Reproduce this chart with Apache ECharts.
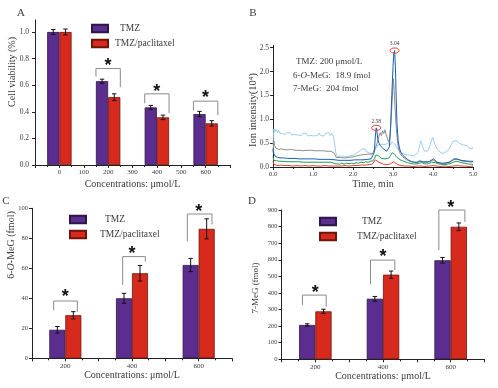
<!DOCTYPE html>
<html>
<head>
<meta charset="utf-8">
<script src="https://cdn.jsdelivr.net/npm/echarts@6/dist/echarts.min.js"></script>
<style>
  html, body { margin: 0; padding: 0; background: #fff; }
  #chart { width: 498px; height: 388px; }
</style>
</head>
<body>
<div id="chart"></div>
<script>
const FONT = '"Liberation Serif", "Times New Roman", serif';
const TXT = '#3a3a3a';
const PURPLE = '#5b2d8e';
const RED = '#d8291d';

// ---- panel A: cell viability ----
const concA = ['0', '200', '400', '600'];
const tmzA = [1.0, 0.63, 0.433, 0.383];
const tmzErrA = [0.018, 0.015, 0.015, 0.02];
const paclA = [1.0, 0.51, 0.358, 0.313];
const paclErrA = [0.022, 0.025, 0.017, 0.02];
// [left x, left leg end, right x, right leg end, top]
const bracketsA = [[150, 0.665, 250, 0.585, 0.725], [350, 0.465, 450, 0.39, 0.535], [550, 0.41, 650, 0.375, 0.48]];
const starsA = [[200, 0.775], [400, 0.58], [600, 0.53]];

// ---- panel B: ion chromatogram (time min, intensity 10^4) ----
const lightBlue = [[0.00,0.45],[0.02,0.80],[0.05,0.74],[0.08,0.79],[0.11,0.72],[0.14,0.77],[0.17,0.71],[0.20,0.75],[0.24,0.70],[0.27,0.74],[0.31,0.68],[0.35,0.73],[0.39,0.69],[0.43,0.72],[0.47,0.67],[0.51,0.71],[0.55,0.68],[0.59,0.72],[0.63,0.67],[0.67,0.70],[0.71,0.66],[0.75,0.71],[0.79,0.67],[0.83,0.70],[0.87,0.65],[0.91,0.69],[0.95,0.66],[0.99,0.70],[1.03,0.65],[1.07,0.69],[1.11,0.66],[1.15,0.71],[1.19,0.66],[1.23,0.70],[1.27,0.65],[1.31,0.70],[1.35,0.67],[1.39,0.72],[1.43,0.66],[1.47,0.71],[1.51,0.64],[1.54,0.50],[1.57,0.30],[1.61,0.22],[1.66,0.20],[1.71,0.23],[1.76,0.19],[1.81,0.22],[1.86,0.20],[1.91,0.23],[1.96,0.21],[2.01,0.25],[2.06,0.24],[2.11,0.30],[2.16,0.33],[2.21,0.37],[2.26,0.34],[2.30,0.38],[2.34,0.32],[2.38,0.35],[2.42,0.29],[2.46,0.31],[2.50,0.28],[2.54,0.33],[2.58,0.40],[2.62,0.46],[2.66,0.42],[2.70,0.48],[2.74,0.44],[2.78,0.47],[2.82,0.43],[2.86,0.49],[2.90,0.52],[2.94,0.47],[2.98,0.53],[3.02,0.50],[3.06,0.46],[3.10,0.40],[3.14,0.35],[3.18,0.31],[3.22,0.29],[3.27,0.27],[3.32,0.26],[3.37,0.24],[3.42,0.25],[3.47,0.22],[3.52,0.23],[3.57,0.26],[3.62,0.30],[3.66,0.42],[3.69,0.55],[3.72,0.50],[3.75,0.40],[3.79,0.33],[3.83,0.30],[3.87,0.34],[3.91,0.42],[3.95,0.52],[3.99,0.62],[4.02,0.55],[4.06,0.45],[4.10,0.38],[4.15,0.33],[4.20,0.30],[4.25,0.28],[4.30,0.30],[4.35,0.33],[4.40,0.38],[4.45,0.46],[4.50,0.54],[4.55,0.58],[4.60,0.55],[4.65,0.50],[4.70,0.48],[4.75,0.46],[4.80,0.43],[4.85,0.45],[4.90,0.40],[4.94,0.43],[4.98,0.38],[5.00,0.41]];
const grayTrace = [[0.00,0.30],[0.02,0.55],[0.04,0.45],[0.07,0.40],[0.10,0.42],[0.14,0.37],[0.18,0.41],[0.22,0.38],[0.26,0.40],[0.30,0.36],[0.34,0.39],[0.38,0.36],[0.42,0.40],[0.46,0.37],[0.50,0.39],[0.55,0.35],[0.60,0.38],[0.65,0.35],[0.70,0.37],[0.75,0.34],[0.80,0.37],[0.85,0.35],[0.90,0.38],[0.95,0.35],[1.00,0.37],[1.05,0.34],[1.10,0.36],[1.15,0.34],[1.20,0.37],[1.25,0.34],[1.30,0.36],[1.35,0.33],[1.40,0.36],[1.45,0.33],[1.50,0.35],[1.54,0.28],[1.58,0.20],[1.63,0.18],[1.68,0.20],[1.73,0.17],[1.78,0.19],[1.83,0.18],[1.88,0.20],[1.93,0.18],[1.98,0.21],[2.03,0.20],[2.08,0.23],[2.13,0.22],[2.18,0.25],[2.23,0.23],[2.28,0.26],[2.33,0.24],[2.38,0.27],[2.43,0.25],[2.48,0.27],[2.52,0.30],[2.56,0.40],[2.60,0.50],[2.64,0.62],[2.68,0.72],[2.71,0.66],[2.74,0.76],[2.77,0.70],[2.80,0.78],[2.83,0.68],[2.86,0.60],[2.89,0.52],[2.92,0.60],[2.95,0.95],[2.98,1.40],[3.01,1.85],[3.03,1.60],[3.05,1.25],[3.08,0.85],[3.11,0.55],[3.14,0.38],[3.18,0.28],[3.23,0.22],[3.28,0.18],[3.34,0.15],[3.40,0.13],[3.46,0.11],[3.52,0.10],[3.58,0.09],[3.64,0.10],[3.70,0.12],[3.76,0.10],[3.82,0.09],[3.88,0.10],[3.94,0.12],[4.00,0.15],[4.04,0.12],[4.10,0.09],[4.16,0.08],[4.22,0.07],[4.28,0.07],[4.34,0.08],[4.40,0.09],[4.46,0.12],[4.52,0.15],[4.58,0.16],[4.64,0.15],[4.70,0.13],[4.76,0.12],[4.82,0.11],[4.88,0.12],[4.94,0.10],[5.00,0.11]];
const blueTrace = [[0.00,0.38],[0.02,0.28],[0.05,0.23],[0.08,0.25],[0.12,0.20],[0.16,0.23],[0.20,0.19],[0.24,0.22],[0.28,0.19],[0.32,0.22],[0.36,0.18],[0.40,0.21],[0.45,0.18],[0.50,0.21],[0.55,0.18],[0.60,0.20],[0.65,0.17],[0.70,0.20],[0.75,0.17],[0.80,0.20],[0.85,0.17],[0.90,0.19],[0.95,0.17],[1.00,0.20],[1.05,0.17],[1.10,0.19],[1.15,0.16],[1.20,0.19],[1.25,0.16],[1.30,0.19],[1.35,0.16],[1.40,0.18],[1.45,0.16],[1.50,0.18],[1.55,0.15],[1.60,0.17],[1.65,0.14],[1.70,0.16],[1.75,0.14],[1.80,0.16],[1.85,0.14],[1.90,0.16],[1.95,0.14],[2.00,0.16],[2.05,0.15],[2.10,0.17],[2.15,0.15],[2.20,0.17],[2.25,0.15],[2.30,0.17],[2.35,0.16],[2.40,0.18],[2.45,0.17],[2.50,0.19],[2.53,0.30],[2.56,0.65],[2.58,0.82],[2.60,0.74],[2.62,0.58],[2.65,0.50],[2.68,0.45],[2.72,0.42],[2.76,0.38],[2.80,0.40],[2.84,0.33],[2.88,0.30],[2.91,0.42],[2.94,0.85],[2.97,1.50],[3.00,2.10],[3.02,2.38],[3.04,2.44],[3.06,2.10],[3.08,1.45],[3.10,0.90],[3.13,0.55],[3.16,0.40],[3.20,0.30],[3.25,0.24],[3.30,0.20],[3.36,0.16],[3.42,0.13],[3.48,0.11],[3.54,0.10],[3.60,0.10],[3.66,0.13],[3.70,0.15],[3.75,0.11],[3.80,0.10],[3.86,0.11],[3.92,0.12],[3.97,0.15],[4.01,0.17],[4.05,0.13],[4.10,0.10],[4.16,0.09],[4.22,0.08],[4.28,0.08],[4.34,0.09],[4.40,0.10],[4.46,0.13],[4.52,0.17],[4.56,0.19],[4.60,0.17],[4.65,0.16],[4.70,0.14],[4.75,0.15],[4.80,0.13],[4.85,0.14],[4.90,0.12],[4.95,0.13],[5.00,0.12]];
const greenTrace = [[0.00,0.22],[0.02,0.14],[0.05,0.11],[0.09,0.13],[0.13,0.10],[0.17,0.12],[0.21,0.10],[0.25,0.12],[0.30,0.09],[0.35,0.11],[0.40,0.09],[0.45,0.11],[0.50,0.09],[0.55,0.11],[0.60,0.09],[0.65,0.11],[0.70,0.09],[0.75,0.10],[0.80,0.08],[0.85,0.10],[0.90,0.08],[0.95,0.10],[1.00,0.08],[1.05,0.10],[1.10,0.08],[1.15,0.10],[1.20,0.08],[1.25,0.10],[1.30,0.08],[1.35,0.10],[1.40,0.08],[1.45,0.10],[1.50,0.08],[1.55,0.07],[1.60,0.08],[1.66,0.06],[1.72,0.08],[1.78,0.06],[1.84,0.08],[1.90,0.07],[1.96,0.08],[2.02,0.07],[2.08,0.09],[2.14,0.08],[2.20,0.10],[2.26,0.09],[2.32,0.11],[2.38,0.10],[2.44,0.12],[2.50,0.13],[2.54,0.18],[2.57,0.25],[2.60,0.28],[2.63,0.24],[2.67,0.20],[2.71,0.18],[2.75,0.19],[2.80,0.17],[2.85,0.20],[2.90,0.19],[2.94,0.24],[2.98,0.30],[3.01,0.32],[3.04,0.27],[3.08,0.22],[3.13,0.18],[3.18,0.15],[3.24,0.13],[3.30,0.11],[3.36,0.09],[3.42,0.08],[3.48,0.07],[3.54,0.06],[3.60,0.07],[3.66,0.08],[3.72,0.09],[3.78,0.07],[3.84,0.06],[3.90,0.07],[3.96,0.10],[4.01,0.13],[4.06,0.09],[4.12,0.07],[4.18,0.06],[4.24,0.05],[4.30,0.05],[4.36,0.06],[4.42,0.07],[4.48,0.09],[4.54,0.11],[4.60,0.12],[4.66,0.10],[4.72,0.09],[4.78,0.08],[4.84,0.07],[4.90,0.06],[4.96,0.06],[5.00,0.05]];
const redTrace = [[0.00,0.12],[0.02,0.06],[0.05,0.04],[0.10,0.03],[0.20,0.04],[0.30,0.03],[0.40,0.03],[0.50,0.02],[0.60,0.03],[0.70,0.02],[0.80,0.03],[0.90,0.02],[1.00,0.03],[1.10,0.02],[1.20,0.02],[1.30,0.03],[1.40,0.02],[1.50,0.02],[1.60,0.02],[1.70,0.02],[1.80,0.03],[1.90,0.02],[2.00,0.03],[2.10,0.03],[2.20,0.04],[2.30,0.04],[2.40,0.05],[2.48,0.06],[2.53,0.10],[2.56,0.15],[2.58,0.19],[2.61,0.15],[2.65,0.10],[2.70,0.07],[2.76,0.06],[2.82,0.05],[2.88,0.05],[2.94,0.07],[2.98,0.09],[3.02,0.11],[3.06,0.08],[3.12,0.05],[3.20,0.03],[3.30,0.02],[3.40,0.02],[3.50,0.01],[3.60,0.02],[3.70,0.02],[3.80,0.01],[3.90,0.02],[4.00,0.03],[4.10,0.02],[4.20,0.01],[4.30,0.02],[4.40,0.01],[4.50,0.02],[4.60,0.03],[4.70,0.02],[4.80,0.02],[4.90,0.01],[5.00,0.02]];
const peakTimes = [2.58, 3.04];
const peakValues = [0.82, 2.44];

// ---- panel C: 6-O-MeG ----
const concC = ['200', '400', '600'];
const tmzC = [19, 40, 62.2];
const tmzErrC = [2.2, 3.3, 4.4];
const paclC = [28.7, 56.7, 86.3];
const paclErrC = [2.4, 5.2, 6.7];
const bracketsC = [[165, 32, 236, 31, 38.2], [372, 49, 440, 64.4, 67.8], [566, 78, 640, 89.3, 96.2]];
const starsC = [[200, 43.5], [400, 72.5], [600, 100]];

// ---- panel D: 7-MeG ----
const concD = ['200', '400', '600'];
const tmzD = [207, 365, 597];
const tmzErrD = [7, 14, 17];
const paclD = [289, 510, 799];
const paclErrD = [13, 22, 23];
const bracketsD = [[162, 327, 232, 317, 387], [363, 452, 435, 538, 598], [565, 658, 642, 829, 900]];
const starsD = [[200, 422], [400, 638], [600, 935]];

const myChart = echarts.init(document.getElementById('chart'), null, { renderer: 'canvas' });

const axisLine = { show: true, onZero: false, lineStyle: { color: '#222', width: 1 } };
const axisTick = { show: true, inside: false, length: 3, lineStyle: { color: '#222' } };
const lbl = (size) => ({ fontFamily: FONT, fontSize: size, color: TXT });

function valueX(grid, min, max, interval, fmt, name, gap) {
  return {
    gridIndex: grid, type: 'value', min: min, max: max, interval: interval,
    axisLine: axisLine, axisTick: axisTick,
    minorTick: { show: true, splitNumber: 2, length: 2, lineStyle: { color: '#222' } },
    splitLine: { show: false },
    axisLabel: Object.assign(lbl(7), { margin: 4, formatter: fmt }),
    name: name, nameLocation: 'middle', nameGap: gap,
    nameTextStyle: lbl(10)
  };
}
function hiddenCat(grid, cats) {
  return { gridIndex: grid, type: 'category', data: cats, show: false, boundaryGap: true,
    axisLine: { show: false, onZero: false } };
}
function valueY(grid, min, max, interval, fmt, ticks, size, margin) {
  return {
    gridIndex: grid, type: 'value', min: min, max: max, interval: interval,
    axisLine: axisLine,
    axisTick: Object.assign({}, axisTick, { customValues: ticks }),
    splitLine: { show: false },
    axisLabel: Object.assign(lbl(size), { margin: margin, formatter: fmt, customValues: ticks })
  };
}

function bars(xi, yi, tmz, pacl, width) {
  const common = { type: 'bar', xAxisIndex: xi, yAxisIndex: yi, barWidth: width, barGap: '0%', silent: true };
  return [
    Object.assign({}, common, { name: 'TMZ', data: tmz,
      itemStyle: { color: PURPLE, borderColor: '#2e1748', borderWidth: 0.8 } }),
    Object.assign({}, common, { name: 'TMZ/paclitaxel', data: pacl,
      itemStyle: { color: RED, borderColor: '#6d140c', borderWidth: 0.8 } })
  ];
}

function errors(xi, yi, vals, errs, side, frac) {
  return {
    type: 'custom', xAxisIndex: xi, yAxisIndex: yi, silent: true, z: 5,
    data: vals.map((v, i) => [i, v, errs[i]]),
    renderItem: function (params, api) {
      const band = api.size([1, 0])[0];
      const top = api.coord([api.value(0), api.value(1) + api.value(2)]);
      const bot = api.coord([api.value(0), api.value(1) - api.value(2)]);
      const x = top[0] + side * band * frac / 2;
      const cap = 2.2;
      const st = { stroke: '#111', lineWidth: 1 };
      return { type: 'group', children: [
        { type: 'line', shape: { x1: x, y1: top[1], x2: x, y2: bot[1] }, style: st },
        { type: 'line', shape: { x1: x - cap, y1: top[1], x2: x + cap, y2: top[1] }, style: st },
        { type: 'line', shape: { x1: x - cap, y1: bot[1], x2: x + cap, y2: bot[1] }, style: st }
      ] };
    }
  };
}

function brackets(xi, yi, list) {
  return {
    type: 'custom', xAxisIndex: xi, yAxisIndex: yi, silent: true, z: 6,
    data: list,
    renderItem: function (params, api) {
      const pts = [
        api.coord([api.value(0), api.value(1)]),
        api.coord([api.value(0), api.value(4)]),
        api.coord([api.value(2), api.value(4)]),
        api.coord([api.value(2), api.value(3)])
      ];
      return { type: 'polyline', shape: { points: pts }, style: { stroke: '#8a8a8a', fill: null, lineWidth: 1 } };
    }
  };
}

function stars(xi, yi, list) {
  return {
    type: 'custom', xAxisIndex: xi, yAxisIndex: yi, silent: true, z: 7,
    data: list,
    renderItem: function (params, api) {
      const p = api.coord([api.value(0), api.value(1)]);
      return { type: 'text', x: p[0], y: p[1] + 4,
        style: { text: '*', fill: '#111', fontFamily: '"Liberation Sans", Arial, sans-serif', fontSize: 18, fontWeight: 'bold',
          align: 'center', verticalAlign: 'middle', textAlign: 'center', textVerticalAlign: 'middle' } };
    }
  };
}

function legend(left, top, pad) {
  return {
    orient: 'vertical', left: left, top: top, icon: 'rect', padding: 0,
    itemWidth: 16, itemHeight: 7.5, itemGap: 4,
    data: ['TMZ', 'TMZ/paclitaxel'], selectedMode: false,
    textStyle: { fontFamily: FONT, fontSize: 9.5, color: TXT, lineHeight: 11,
      rich: {
        t: { fontFamily: FONT, fontSize: 9.5, color: TXT, padding: [0, 0, 0, pad + 5] },
        p: { fontFamily: FONT, fontSize: 9.5, color: TXT, padding: [0, 0, 0, pad] }
      } },
    formatter: (name) => name === 'TMZ' ? '{t|' + name + '}' : '{p|' + name + '}'
  };
}

function traceLine(data, color, opacity) {
  return {
    type: 'line', xAxisIndex: 2, yAxisIndex: 1, data: data, showSymbol: false, silent: true,
    lineStyle: { color: color, width: 1, opacity: opacity }
  };
}

function gtext(x, y, text, size, rot) {
  const style = { text: text, fontFamily: FONT, fontSize: size, fill: TXT,
    align: 'center', verticalAlign: 'middle', textAlign: 'center', textVerticalAlign: 'middle' };
  if (text.indexOf('{i|') >= 0) {
    style.rich = { i: { fontFamily: FONT, fontStyle: 'italic', fontSize: size, fill: TXT } };
  }
  return { type: 'text', x: x, y: y, rotation: rot || 0, style: style };
}

function note(x, y, text) {
  return { type: 'text', x: x, y: y, style: { text: text, fontFamily: FONT, fontSize: 9, fill: TXT,
    verticalAlign: 'middle', textVerticalAlign: 'middle',
    rich: { i: { fontFamily: FONT, fontStyle: 'italic', fontSize: 9, fill: TXT } } } };
}

myChart.setOption({
  animation: false,
  backgroundColor: '#fff',
  grid: [
    { left: 35, top: 20, width: 195, height: 145 },
    { left: 273, top: 45.3, width: 200, height: 121.7 },
    { left: 32, top: 208.3, width: 200, height: 150 },
    { left: 281.5, top: 210, width: 203, height: 149.3 }
  ],
  xAxis: [
    valueX(0, -100, 700, 100, (v) => (v >= 0 && v <= 600) ? String(v) : '', 'Concentrations: μmol/L', 14),
    hiddenCat(0, concA),
    valueX(1, 0, 5, 1, (v) => v.toFixed(1), 'Time, min', 12),
    valueX(2, 100, 700, 100, (v) => v % 200 === 0 ? String(v) : '', 'Concentrations: μmol/L', 12),
    hiddenCat(2, concC),
    valueX(3, 100, 700, 100, (v) => v % 200 === 0 ? String(v) : '', 'Concentrations: μmol/L', 12),
    hiddenCat(3, concD)
  ],
  yAxis: [
    valueY(0, 0, 1.09, 0.2, (v) => v.toFixed(1), [0, 0.2, 0.4, 0.6, 0.8, 1.0], 7.5, 6),
    valueY(1, 0, 2.55, 0.5, (v) => v.toFixed(1), [0, 0.5, 1.0, 1.5, 2.0, 2.5], 7.5, 4),
    valueY(2, 0, 100, 20, (v) => String(v), [0, 20, 40, 60, 80, 100], 6.5, 4),
    valueY(3, 0, 900, 100, (v) => String(v), [0, 100, 200, 300, 400, 500, 600, 700, 800, 900], 6.5, 4)
  ],
  legend: [legend(91, 23, 2), legend(69, 214, 9), legend(319, 216, 16)],
  graphic: [
    gtext(21, 13, 'A', 11),
    gtext(253, 13, 'B', 11),
    gtext(6, 201, 'C', 11),
    gtext(252, 201, 'D', 11),
    gtext(12, 72, 'Cell viability (%)', 10, Math.PI / 2),
    gtext(253, 110, 'Ion intensity(10⁴)', 10.5, Math.PI / 2),
    gtext(11, 245, '6-{i|O}-MeG (fmol)', 10, Math.PI / 2),
    gtext(256, 288, '7-MeG (fmol)', 9, Math.PI / 2),
    note(296, 62, 'TMZ: 200 μmol/L'),
    note(293, 75.5, '6-{i|O}-MeG:  18.9 fmol'),
    note(293, 88.5, '7-MeG:  204 fmol')
  ],
  series: [
    ...bars(1, 0, tmzA, paclA, '25%'),
    errors(1, 0, tmzA, tmzErrA, -1, 0.25),
    errors(1, 0, paclA, paclErrA, 1, 0.25),
    brackets(0, 0, bracketsA),
    stars(0, 0, starsA),

    traceLine(lightBlue, '#93c6ec', 0.9),
    traceLine(grayTrace, '#8c8c8c', 1),
    traceLine(blueTrace, '#1b5fb3', 1),
    traceLine(greenTrace, '#1f9b57', 1),
    traceLine(redTrace, '#e8402c', 1),
    {
      type: 'custom', xAxisIndex: 2, yAxisIndex: 1, silent: true, z: 8,
      data: peakTimes.map((t, i) => [t, peakValues[i]]),
      renderItem: function (params, api) {
        const p = api.coord([api.value(0), api.value(1)]);
        return { type: 'group', children: [
          { type: 'ellipse', shape: { cx: p[0], cy: p[1], rx: 4.5, ry: 2.6 },
            style: { stroke: '#e8402c', fill: null, lineWidth: 1 } },
          { type: 'text', x: p[0], y: p[1] - 3.5,
            style: { text: api.value(0).toFixed(2), fontFamily: FONT, fontSize: 5.5, fill: TXT,
              align: 'center', verticalAlign: 'bottom', textAlign: 'center', textVerticalAlign: 'bottom' } }
        ] };
      }
    },

    ...bars(4, 2, tmzC, paclC, '24%'),
    errors(4, 2, tmzC, tmzErrC, -1, 0.24),
    errors(4, 2, paclC, paclErrC, 1, 0.24),
    brackets(3, 2, bracketsC),
    stars(3, 2, starsC),

    ...bars(6, 3, tmzD, paclD, '24%'),
    errors(6, 3, tmzD, tmzErrD, -1, 0.24),
    errors(6, 3, paclD, paclErrD, 1, 0.24),
    brackets(5, 3, bracketsD),
    stars(5, 3, starsD)
  ]
});

window.addEventListener('resize', function () {
  myChart.resize();
});
</script>
</body>
</html>
